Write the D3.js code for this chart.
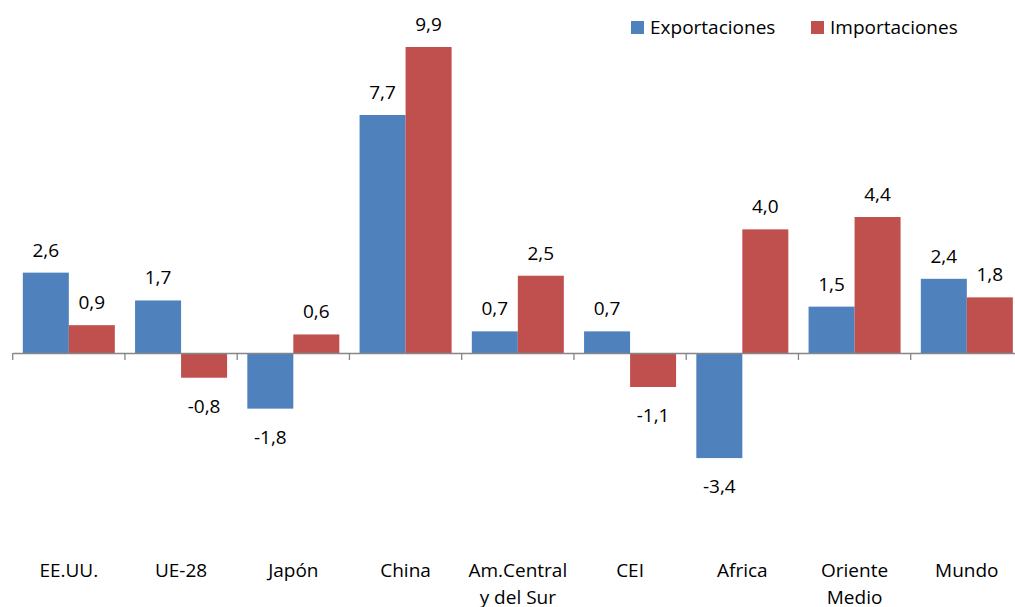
<!DOCTYPE html>
<html>
<head>
<meta charset="utf-8">
<script src="https://cdn.jsdelivr.net/npm/d3@7"></script>
<style>
  body { margin: 0; background: #fff; }
  text { font-family: "Open Sans", "Noto Sans", sans-serif; fill: #000; }
</style>
</head>
<body>
<svg id="chart" width="1015" height="607"></svg>
<script>
// data
var regions = ["EE.UU.", "UE-28", "Japón", "China", "Am.Central\ny del Sur", "CEI", "Africa", "Oriente\nMedio", "Mundo"];
var exportaciones = [2.6, 1.7, -1.8, 7.7, 0.7, 0.7, -3.4, 1.5, 2.4];
var importaciones = [0.9, -0.8, 0.6, 9.9, 2.5, -1.1, 4.0, 4.4, 1.8];
var seriesNames = ["Exportaciones", "Importaciones"];
var colors = ["#4F81BD", "#C0504D"];

var svg = d3.select("#chart");

var x = d3.scaleBand()
    .domain(regions)
    .range([12.7, 12.7 + 9 * 112.25])
    .paddingInner(0)
    .paddingOuter(0);

var y = d3.scaleLinear().domain([0, 9.9]).range([353, 47]);

var inner = d3.scaleBand()
    .domain(seriesNames)
    .range([0, x.bandwidth()])
    .paddingOuter(0.22)
    .paddingInner(0);

var rows = regions.map(function (r, i) {
    return { region: r, values: [exportaciones[i], importaciones[i]] };
});

// comma decimal, plain hyphen for negatives
var fmt = function (v) { return (v < 0 ? "-" : "") + Math.abs(v).toFixed(1).replace(".", ","); };

// bars
var groups = svg.selectAll(".grp")
    .data(rows)
    .join("g")
    .attr("class", "grp")
    .attr("transform", function (d) { return "translate(" + x(d.region) + ",0)"; });

groups.selectAll("rect")
    .data(function (d) { return d.values.map(function (v, k) { return { v: v, k: k }; }); })
    .join("rect")
    .attr("x", function (d) { return inner(seriesNames[d.k]); })
    .attr("width", inner.bandwidth())
    .attr("y", function (d) { return Math.min(y(d.v), y(0)); })
    .attr("height", function (d) { return Math.abs(y(d.v) - y(0)); })
    .attr("fill", function (d) { return colors[d.k]; });

// value labels
groups.selectAll(".val")
    .data(function (d) { return d.values.map(function (v, k) { return { v: v, k: k }; }); })
    .join("text")
    .attr("class", "val")
    .attr("x", function (d) { return inner(seriesNames[d.k]) + inner.bandwidth() / 2; })
    .attr("y", function (d) { return d.v >= 0 ? y(d.v) - 16 : y(d.v) + 35; })
    .attr("text-anchor", "middle")
    .style("font-size", "19px")
    .text(function (d) { return fmt(d.v); });

// x axis
var axis = svg.append("g")
    .attr("transform", "translate(0," + y(0) + ")")
    .call(d3.axisBottom(x).tickSize(0).tickFormat(""));
axis.select(".domain").attr("stroke", "#868686").attr("stroke-width", 1.3);
axis.selectAll(".tick").remove();

// boundary ticks
axis.selectAll(".bt")
    .data(d3.range(regions.length + 1))
    .join("line")
    .attr("class", "bt")
    .attr("x1", function (i) { return 12.7 + i * x.step(); })
    .attr("x2", function (i) { return 12.7 + i * x.step(); })
    .attr("y1", 0)
    .attr("y2", 7)
    .attr("stroke", "#868686")
    .attr("stroke-width", 1.3);

// category labels
var cat = svg.selectAll(".cat")
    .data(regions)
    .join("text")
    .attr("class", "cat")
    .attr("text-anchor", "middle")
    .attr("y", 577)
    .style("font-size", "19px");
cat.selectAll("tspan")
    .data(function (d) { return d.split("\n").map(function (s) { return { s: s, r: d }; }); })
    .join("tspan")
    .attr("x", function (d) { return x(d.r) + x.bandwidth() / 2; })
    .attr("dy", function (d, i) { return i === 0 ? 0 : 27; })
    .text(function (d) { return d.s; });

// legend
var legendX = [631, 811];
var legend = svg.selectAll(".leg")
    .data(seriesNames)
    .join("g")
    .attr("class", "leg")
    .attr("transform", function (d, i) { return "translate(" + legendX[i] + ",21)"; });
legend.append("rect")
    .attr("width", 13).attr("height", 13)
    .attr("fill", function (d, i) { return colors[i]; });
legend.append("text")
    .attr("x", 19).attr("y", 13)
    .style("font-size", "19px")
    .text(function (d) { return d; });
</script>
</body>
</html>
